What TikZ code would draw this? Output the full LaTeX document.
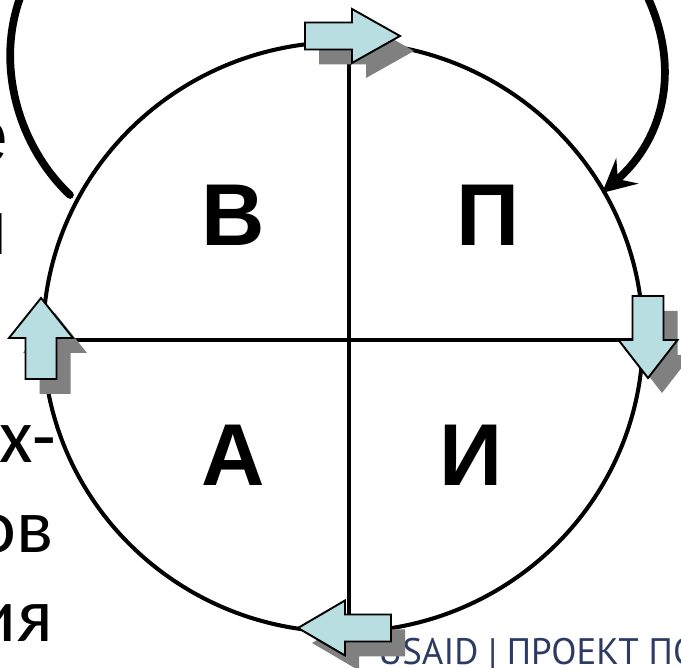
\documentclass[tikz,border=0pt]{standalone}
\usepackage{fontspec}
\setmainfont{Liberation Sans}
\newfontfamily\calfont{Carlito}
\newfontfamily\logofont{PT Sans}
\usetikzlibrary{calc, arrows.meta, shapes.geometric}
\definecolor{paleblue}{RGB}{185,222,226}
\definecolor{shadowgrey}{RGB}{128,128,128}
\definecolor{usaidblue}{RGB}{44,58,100}

% tip, angle, length, head length, half body, half head
\newcommand{\blockarrow}[6]{%
  \fill[shadowgrey, shift={#1}, shift={(14,-15)}, rotate=#2]
    (0,0) -- (-#4,#6) -- (-#4,#5) -- (-#3,#5) -- (-#3,-#5) -- (-#4,-#5) -- (-#4,-#6) -- cycle;
  \draw[blockarr, shift={#1}, rotate=#2]
    (0,0) -- (-#4,#6) -- (-#4,#5) -- (-#3,#5) -- (-#3,-#5) -- (-#4,-#5) -- (-#4,-#6) -- cycle;
}

\begin{document}
\begin{tikzpicture}[
  x=0.02cm, y=0.02cm,
  rim/.style={draw, line width=2.3pt},
  blockarr/.style={draw, fill=paleblue, line width=1.1pt, line join=miter},
  quad/.style={font=\fontsize{50}{60}\selectfont\bfseries, inner sep=0pt},
  cut/.style={font=\fontsize{44}{50}\selectfont, inner sep=0pt, anchor=base east},
  cutcal/.style={font=\calfont\fontsize{44}{50}\selectfont, inner sep=0pt, anchor=base east}
]
\useasboundingbox (0,0) rectangle (681,668);
\clip (0,0) rectangle (681,668);

\node[cut] (e1) at (9,505) {е};
\node[cut] (ya1) at (8,413) {я};
\node[cutcal] (kh) at (57,205) {х-};
\node[cutcal] (ov) at (54,115) {ов};
\node[cutcal] (iya) at (53,26) {ия};

\node[rim, ellipse, minimum width=12cm, minimum height=11.8cm, inner sep=0pt] (wheel) at (343,331) {};
\draw[rim] ($(wheel.north)+(6,0)$) -- ($(wheel.south)+(6,0)$);
\draw[rim] ($(wheel.west)+(0,-3)$) -- ($(wheel.east)+(0,-3)$);

\node[quad] (v) at (233,453) {В};
\node[quad] (p) at (488,453) {П};
\node[quad] (a) at (233,213) {А};
\node[quad] (i) at (471,213) {И};

\coordinate (loopstart) at (70,473);
\coordinate (looptip) at (602,475);
\draw[line width=4.4pt, line cap=round, -{Stealth[length=19pt, width=19pt, inset=7pt]}]
  (loopstart) .. controls (20,520) and (-5,600) .. (20,670)
  .. controls (60,790) and (600,790) .. (648,670)
  .. controls (680,600) and (665,530) .. (looptip);

\node[anchor=base west, inner sep=0pt, font=\logofont\fontsize{21}{24}\selectfont, text=usaidblue] (logo) at (378,3) {USAID | ПРОЕКТ ПО};

\blockarrow{(400,632)}{0}{95}{48}{13.5}{27}
\blockarrow{(648,290)}{-90}{82}{38}{15.5}{29.5}
\blockarrow{(41,370)}{90}{81}{40}{15.5}{32}
\blockarrow{(298,40)}{180}{93}{47}{13.5}{27.5}
\end{tikzpicture}
\end{document}
